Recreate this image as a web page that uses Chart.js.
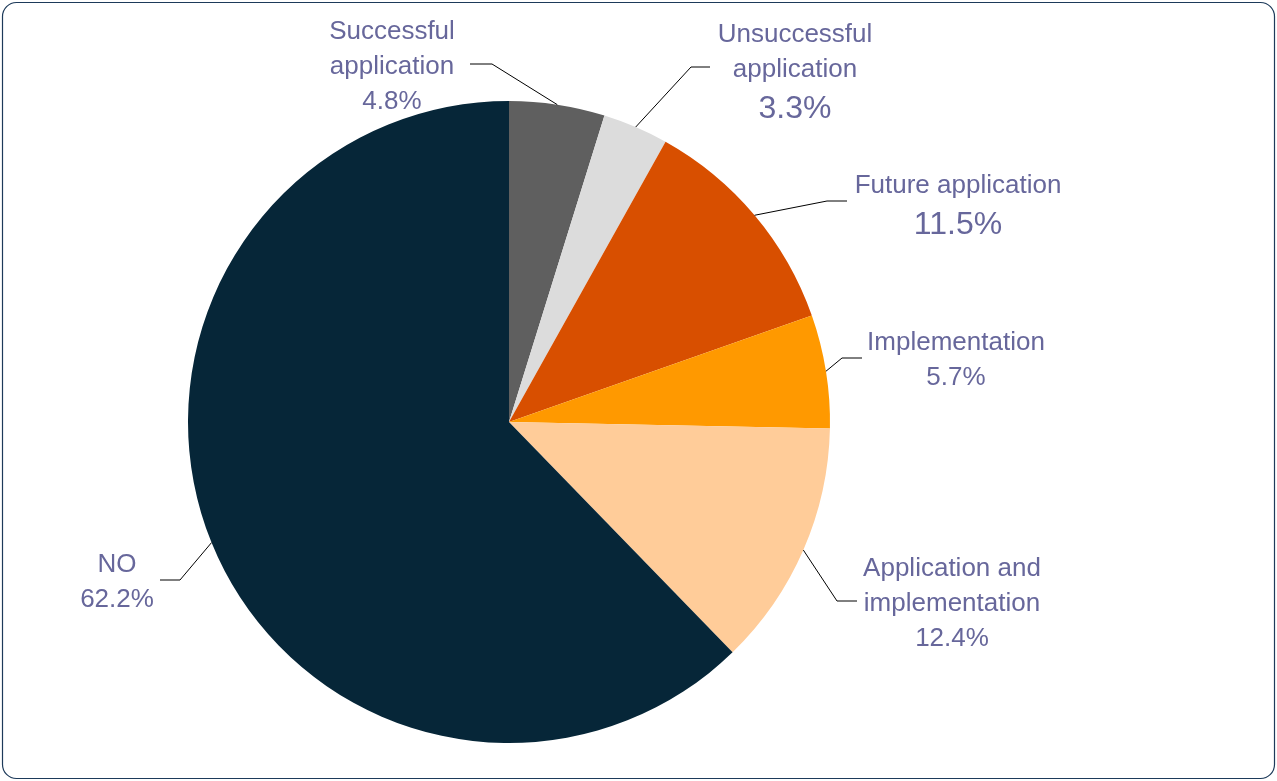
<!DOCTYPE html>
<html>
<head>
<meta charset="utf-8">
<script src="https://cdn.jsdelivr.net/npm/chart.js@4.4.1/dist/chart.umd.min.js"></script>
<style>
    html, body { margin: 0; padding: 0; background: #ffffff; }
    #wrap { width: 1277px; height: 781px; position: relative; }
</style>
</head>
<body>
<div id="wrap"><canvas id="pie-chart"></canvas></div>
<script>
// data, clockwise from 12 o'clock
var categories = [
    ['Successful', 'application'],
    ['Unsuccessful', 'application'],
    ['Future application'],
    ['Implementation'],
    ['Application and', 'implementation'],
    ['NO']
];
var shares = [4.8, 3.3, 11.5, 5.7, 12.4, 62.2];
var sliceColors = ['#5f5f5f', '#dcdcdc', '#d84f00', '#ff9900', '#ffcc99', '#062638'];

// where each label sits and where its leader line bends
var labelLayout = [
    { x: 392, y: 39, elbow: [492, 64], end: [470, 64], big: false },
    { x: 795, y: 42, elbow: [691, 67], end: [710, 67], big: true },
    { x: 958, y: 193, elbow: [827, 201], end: [847, 201], big: true },
    { x: 956, y: 350, elbow: [842, 358], end: [862, 358], big: false },
    { x: 952, y: 576, elbow: [837, 601], end: [857, 601], big: false },
    { x: 117, y: 572, elbow: [180, 580], end: [160, 580], big: false }
];

var textColor = '#67679b';
var fontFace = '"Liberation Sans", Arial, Helvetica, sans-serif';

var frameAndLabels = {
    id: 'frameAndLabels',
    beforeDraw: function (chart) {
        var ctx = chart.ctx;
        ctx.save();
        ctx.strokeStyle = '#1d3a5a';
        ctx.lineWidth = 1.2;
        ctx.beginPath();
        ctx.roundRect(2.5, 2.5, 1272, 776, 14);
        ctx.stroke();
        ctx.restore();
    },
    afterDraw: function (chart) {
        var ctx = chart.ctx;
        var arcs = chart.getDatasetMeta(0).data;
        ctx.save();
        arcs.forEach(function (arc, i) {
            var lay = labelLayout[i];
            var mid = (arc.startAngle + arc.endAngle) / 2;
            var sx = arc.x + Math.cos(mid) * arc.outerRadius;
            var sy = arc.y + Math.sin(mid) * arc.outerRadius;

            ctx.strokeStyle = '#000000';
            ctx.lineWidth = 1;
            ctx.beginPath();
            ctx.moveTo(sx, sy);
            ctx.lineTo(lay.elbow[0], lay.elbow[1]);
            ctx.lineTo(lay.end[0], lay.end[1]);
            ctx.stroke();

            ctx.fillStyle = textColor;
            ctx.textAlign = 'center';
            ctx.textBaseline = 'alphabetic';
            ctx.font = '26px ' + fontFace;
            var y = lay.y;
            categories[i].forEach(function (line, k) {
                if (k > 0) y += 35;
                ctx.fillText(line, lay.x, y);
            });
            ctx.font = (lay.big ? '32px ' : '26px ') + fontFace;
            y += lay.big ? 41 : 35;
            ctx.fillText(shares[i].toFixed(1) + '%', lay.x, y);
        });
        ctx.restore();
    }
};

new Chart(document.getElementById('pie-chart'), {
    type: 'pie',
    data: {
        labels: categories.map(function (c) { return c.join(' '); }),
        datasets: [{
            data: shares,
            backgroundColor: sliceColors,
            borderWidth: 0
        }]
    },
    options: {
        responsive: true,
        maintainAspectRatio: false,
        animation: false,
        layout: { padding: { left: 188, right: 447, top: 101, bottom: 38 } },
        plugins: {
            legend: { display: false },
            tooltip: { enabled: false }
        }
    },
    plugins: [frameAndLabels]
});
</script>
</body>
</html>
